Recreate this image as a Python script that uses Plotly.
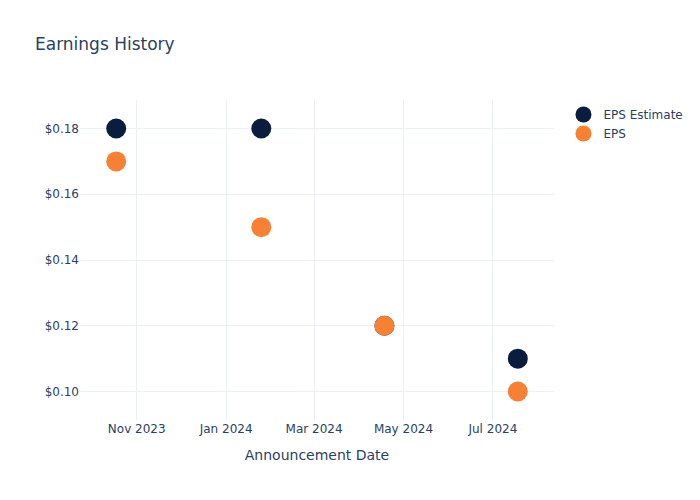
import plotly.graph_objects as go

dates = ["2023-10-18", "2024-01-25", "2024-04-18", "2024-07-18"]
eps_estimate = [0.18, 0.18, 0.12, 0.11]
eps_actual = [0.17, 0.15, 0.12, 0.10]

fig = go.Figure()
fig.add_trace(go.Scatter(x=dates, y=eps_estimate, mode="markers", name="EPS Estimate",
                         marker=dict(color="#0b1d3f", size=20)))
fig.add_trace(go.Scatter(x=dates, y=eps_actual, mode="markers", name="EPS",
                         marker=dict(color="#f68135", size=20)))
fig.update_layout(
    template="plotly_white",
    width=700, height=500,
    font=dict(family="DejaVu Sans"),
    title=dict(text="Earnings History"),
    xaxis=dict(title=dict(text="Announcement Date"), dtick="M2", tickformat="%b %Y"),
    yaxis=dict(tickprefix="$", tickformat=".2f"),
)
fig.write_html("out.html")
